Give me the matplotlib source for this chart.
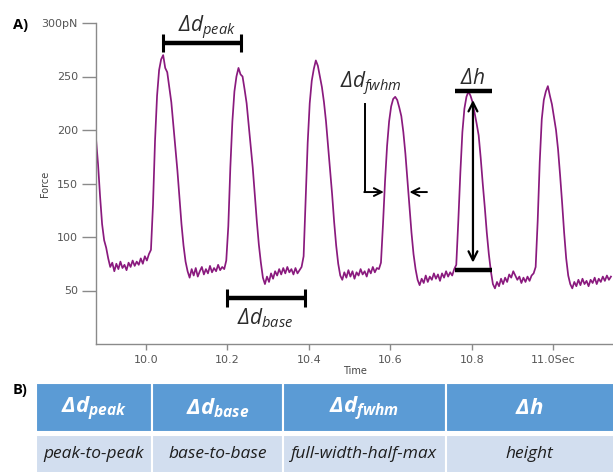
import numpy as np
import matplotlib
matplotlib.use("Agg")
import matplotlib.pyplot as plt
from matplotlib.patches import Rectangle

plt.rcParams["mathtext.fontset"] = "custom"
plt.rcParams["mathtext.it"] = "Open Sans:italic"
plt.rcParams["mathtext.rm"] = "Open Sans:italic"
plt.rcParams["mathtext.bf"] = "Open Sans:bold:italic"

# ---- force recording (pN), sampled every 5 ms ----
t_start = 9.877
dt = 0.005
force = [
    192, 168, 138, 112, 97, 90, 80,
    72, 76, 68, 75, 70, 77, 71, 74, 69, 76, 72, 78, 73, 77, 74, 80, 75, 82, 78, 84,
    88, 130, 190, 232, 256, 266, 270, 258, 254, 240, 226, 205, 183, 162, 137, 112, 92, 77,
    68, 62, 70, 64, 71, 63, 68, 72, 65, 70, 66, 73, 67, 71, 68, 74, 69, 72, 70,
    78, 110, 165, 208, 236, 250, 258, 252, 250, 238, 225, 205, 185, 165, 140, 115, 93, 76, 62,
    56, 63, 58, 66, 61, 68, 64, 70, 65, 71, 66, 72, 67, 70, 65, 71, 66, 69, 72,
    82, 135, 188, 225, 246, 257, 265, 260, 250, 240, 226, 208, 185, 163, 140, 114, 92, 75, 64,
    60, 67, 62, 69, 63, 68, 61, 67, 64, 70, 65, 68, 63, 70, 66, 72, 67, 71, 70,
    76, 112, 152, 185, 208, 222, 229, 231, 228, 221, 213, 198, 178, 153, 128, 104, 84, 70, 60,
    55, 61, 57, 64, 58, 63, 60, 66, 61, 65, 59, 66, 62, 68, 63, 67, 64, 70,
    74, 115, 160, 198, 220, 231, 236, 232, 226, 216, 206, 195, 174, 150, 128, 104, 84, 68, 56,
    52, 58, 54, 61, 56, 62, 58, 65, 62, 68, 64, 60, 63, 57, 62, 58, 63, 59, 64, 66,
    72, 115, 170, 210, 228, 236, 241, 232, 224, 212, 200, 182, 158, 132, 104, 80, 64, 56,
    52, 58, 54, 60, 55, 61, 56, 59, 54, 60, 57, 62, 56, 61, 58, 63, 59, 64, 60, 63,
]
time = t_start + dt * np.arange(len(force))

y_ticks = [50, 100, 150, 200, 250, 300]
y_tick_labels = ["50", "100", "150", "200", "250", "300pN"]
x_ticks = [10.0, 10.2, 10.4, 10.6, 10.8, 11.0]
x_tick_labels = ["10.0", "10.2", "10.4", "10.6", "10.8", "11.0Sec"]

metric_names = [r"$\mathbf{\Delta d_{peak}}$", r"$\mathbf{\Delta d_{base}}$",
                r"$\mathbf{\Delta d_{fwhm}}$", r"$\mathbf{\Delta h}$"]
metric_descriptions = ["peak-to-peak", "base-to-base", "full-width-half-max", "height"]

W, H = 613, 472
fig = plt.figure(figsize=(W / 100, H / 100), dpi=100)
fig.patch.set_facecolor("white")

# ---- panel A: force trace ----
ax = fig.add_axes([96 / W, 1 - 344 / H, (W - 96) / W, (344 - 23) / H])
ax.plot(time, force, color="#8a1a7e", lw=1.25)
ax.set_xlim(9.877, 11.147)
ax.set_ylim(0, 300)
for s in ["top", "right"]:
    ax.spines[s].set_visible(False)
for s in ["left", "bottom"]:
    ax.spines[s].set_color("#8a8a8a")
    ax.spines[s].set_linewidth(1.0)
ax.set_yticks(y_ticks)
ax.set_yticklabels(y_tick_labels)
ax.set_xticks(x_ticks)
ax.set_xticklabels(x_tick_labels)
ax.tick_params(axis="y", length=10, width=1, color="#8a8a8a", labelsize=8,
               labelcolor="#555555", pad=3)
ax.tick_params(axis="x", length=4, width=1, color="#8a8a8a", labelsize=8,
               labelcolor="#555555", pad=4)
ax.set_xlabel("Time", fontsize=7, color="#444444", labelpad=1)
ax.set_ylabel("Force", fontsize=7, color="#444444")
ax.yaxis.set_label_coords(-0.089, 0.5)

ann_color = "#2b2b2b"

def span_bar(x0, x1, y):
    ax.plot([x0, x1], [y, y], color="black", lw=3.2, solid_capstyle="butt", clip_on=False)
    ax.plot([x0, x1], [y, y], ls="none", marker="|", ms=13, mew=2.2, color="black", clip_on=False)

# peak-to-peak distance
span_bar(10.042, 10.233, 281)
ax.text(10.150, 291, r"$\Delta d_{peak}$", fontsize=15, color=ann_color,
        ha="center", va="baseline", clip_on=False)

# base-to-base distance
span_bar(10.199, 10.390, 43)
ax.text(10.292, 18, r"$\Delta d_{base}$", fontsize=15, color=ann_color,
        ha="center", va="baseline")

# full width at half max
ax.text(10.553, 239, r"$\Delta d_{fwhm}$", fontsize=15, color=ann_color,
        ha="center", va="baseline")
ax.plot([10.537, 10.537], [224, 142], color="black", lw=1.4)
ax.annotate("", xy=(10.584, 142), xytext=(10.536, 142),
            arrowprops=dict(arrowstyle="->", color="black", lw=1.4, mutation_scale=14,
                            shrinkA=0, shrinkB=0))
ax.annotate("", xy=(10.647, 142), xytext=(10.690, 142),
            arrowprops=dict(arrowstyle="->", color="black", lw=1.4, mutation_scale=14,
                            shrinkA=0, shrinkB=0))

# peak height
ax.plot([10.758, 10.849], [236, 236], color="black", lw=3.2, solid_capstyle="butt")
ax.plot([10.758, 10.849], [69, 69], color="black", lw=3.2, solid_capstyle="butt")
ax.annotate("", xy=(10.803, 228), xytext=(10.803, 76),
            arrowprops=dict(arrowstyle="<->", color="black", lw=1.6, mutation_scale=16,
                            shrinkA=0, shrinkB=0))
ax.text(10.803, 243, r"$\Delta h$", fontsize=15, color=ann_color,
        ha="center", va="baseline")

fig.text(13 / W, 1 - 29 / H, "A)", fontsize=10.5, fontweight="bold",
         family="Open Sans", color="black")
fig.text(13 / W, 1 - 394 / H, "B)", fontsize=10.5, fontweight="bold",
         family="Open Sans", color="black")

# ---- panel B: metric definitions ----
tab = fig.add_axes([0, 0, 1, 1], zorder=-1)
tab.set_xlim(0, W)
tab.set_ylim(H, 0)
tab.axis("off")
col_edges = [36, 152, 283, 446, W + 2]
header_top, header_bot = 383, 432
row_top, row_bot = 435, H + 2
for i, (name, desc) in enumerate(zip(metric_names, metric_descriptions)):
    x0, x1 = col_edges[i], col_edges[i + 1]
    tab.add_patch(Rectangle((x0, header_top), x1 - x0, header_bot - header_top,
                            facecolor="#5b9bd5", edgecolor="white", lw=1.5))
    tab.add_patch(Rectangle((x0, row_top), x1 - x0, row_bot - row_top,
                            facecolor="#d2deef", edgecolor="white", lw=1.5))
    tab.text((x0 + min(x1, W)) / 2, (header_top + header_bot) / 2 + 1, name,
             fontsize=16, color="white", ha="center", va="center")
    tab.text((x0 + min(x1, W)) / 2, (row_top + H) / 2 + 1, desc, fontsize=12.5,
             color="#1e1e1e", style="italic", family="Open Sans",
             ha="center", va="center")

fig.savefig("out.png", dpi=100, facecolor="white")
